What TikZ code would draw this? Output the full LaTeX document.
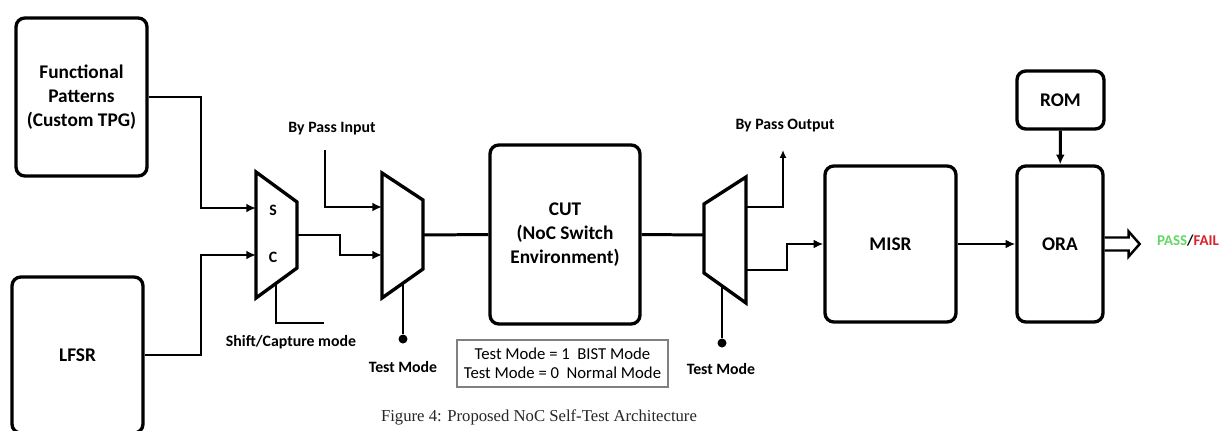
\documentclass[tikz,border=0pt]{standalone}
\usepackage{fontspec}
\setmainfont{Carlito}
\newfontfamily\capfont{Liberation Serif}
\usetikzlibrary{arrows.meta}
\definecolor{passgreen}{RGB}{100,215,100}
\definecolor{failred}{RGB}{215,35,45}

\begin{document}
\begin{tikzpicture}[x=0.02cm,y=-0.02cm,
  blk/.style={draw,line width=1.9pt,rounded corners=5pt,align=center,
    font=\bfseries\fontsize{11}{13.5}\selectfont},
  wire/.style={line width=1.7pt},
  thinwire/.style={line width=1pt},
  arr/.style={-{Latex[length=5.5pt,width=5pt]}},
  lbl/.style={font=\bfseries\fontsize{9}{11}\selectfont},
  muxbody/.style={line width=1.9pt,line join=miter},
  dot/.style={circle,fill,inner sep=0pt,minimum size=0.18cm}]
\clip (0,0) rectangle (1225,430);
\fill[white] (0,0) rectangle (1225,430);

% blocks
\node[blk,minimum width=2.62cm,minimum height=3.16cm] (fp) at (81.5,97) {Functional\\Patterns\\(Custom TPG)};
\node[blk,minimum width=2.62cm,minimum height=3.12cm] (lfsr) at (77.5,355) {LFSR};
\node[blk,minimum width=3cm,minimum height=3.58cm] (cut) at (565,234.5) {CUT\\(NoC Switch\\Environment)};
\node[blk,minimum width=2.62cm,minimum height=3.12cm] (misr) at (890.5,244) {MISR};
\node[blk,minimum width=1.72cm,minimum height=3.12cm] (ora) at (1060,244) {ORA};
\node[blk,minimum width=1.74cm,minimum height=1.16cm] (rom) at (1060.5,100) {ROM};

% muxes
\draw[muxbody] (256,172) -- (297,202) -- (297,268) -- (256,298) -- cycle;
\draw[muxbody] (382,173) -- (423,200) -- (423,269) -- (382,298) -- cycle;
\draw[muxbody] (704,204) -- (746,177) -- (746,303) -- (704,273) -- cycle;
\coordinate (m1s) at (256,208);
\coordinate (m1c) at (256,255);
\coordinate (m1o) at (297,235);
\coordinate (m1sel) at (276,283);
\coordinate (m2a) at (382,207);
\coordinate (m2b) at (382,255);
\coordinate (m2o) at (423,235);
\coordinate (m2sel) at (403,283);
\coordinate (m3i) at (704,235);
\coordinate (m3a) at (746,207);
\coordinate (m3b) at (746,270);
\coordinate (m3sel) at (722,286);
\coordinate (scm) at (324,323);
\coordinate (bpi) at (325,150);
\coordinate (bpo) at (783,150);
\node[lbl] (sin) at (273,210) {S};
\node[lbl] (cin) at (273,257) {C};

% labels
\node[lbl] (scmode) at (291,342) {Shift/Capture mode};
\node[lbl] (bpitext) at (332,129) {By Pass Input};
\node[lbl] (bpotext) at (785,126) {By Pass Output};
\node[dot] (tm1) at (403,339) {};
\node[dot] (tm2) at (722,343) {};
\node[lbl] (tm1text) at (403,367) {Test Mode};
\node[lbl] (tm2text) at (721,369) {Test Mode};
\node[draw=gray,line width=0.6pt,align=center,font=\fontsize{9.5}{11}\selectfont,
  minimum width=4.22cm,minimum height=0.94cm] (legend) at (562.5,363.5)
  {Test Mode = 1\ \ BIST Mode\\Test Mode = 0\ \ Normal Mode};
\node[font=\bfseries\fontsize{8.5}{10}\selectfont] (pf) at (1188,241)
  {\textcolor{passgreen}{PASS}/\textcolor{failred}{FAIL}};
\node[font=\capfont\fontsize{9.5}{11}\selectfont,text=black!85] (cap) at (539,417)
  {Figure 4: Proposed NoC Self-Test Architecture};

% connections
\draw[wire,arr] (fp.east) -- (201,97) |- (m1s);
\draw[wire,arr] (lfsr.east) -- (201,355) |- (m1c);
\draw[wire] (m1sel) |- (scm);
\draw[wire,arr] (m1o) -- (340,235) |- (m2b);
\draw[thinwire,arr] (bpi) |- (m2a);
\draw[wire] (m2sel) -- (tm1);
\draw[wire] (m2o) -- (cut.west);
\draw[wire] (cut.east) -- (m3i);
\draw[wire] (m3sel) -- (tm2);
\draw[line width=1.3pt,-{Latex[length=4.5pt,width=4pt]}] (m3a) -| (bpo);
\draw[wire,arr] (m3b) -- (787,270) |- (misr.west);
\draw[wire,arr] (misr) -- (ora);
\draw[wire,arr] (rom) -- (ora);
% hollow output arrow
\draw[line width=1.4pt,line join=miter] (ora.east) ++(0,-6.5) -- ++(24,0) -- ++(0,-6)
  -- ++(11,12.5) -- ++(-11,12.5) -- ++(0,-6) -- ++(-24,0);
\end{tikzpicture}
\end{document}
